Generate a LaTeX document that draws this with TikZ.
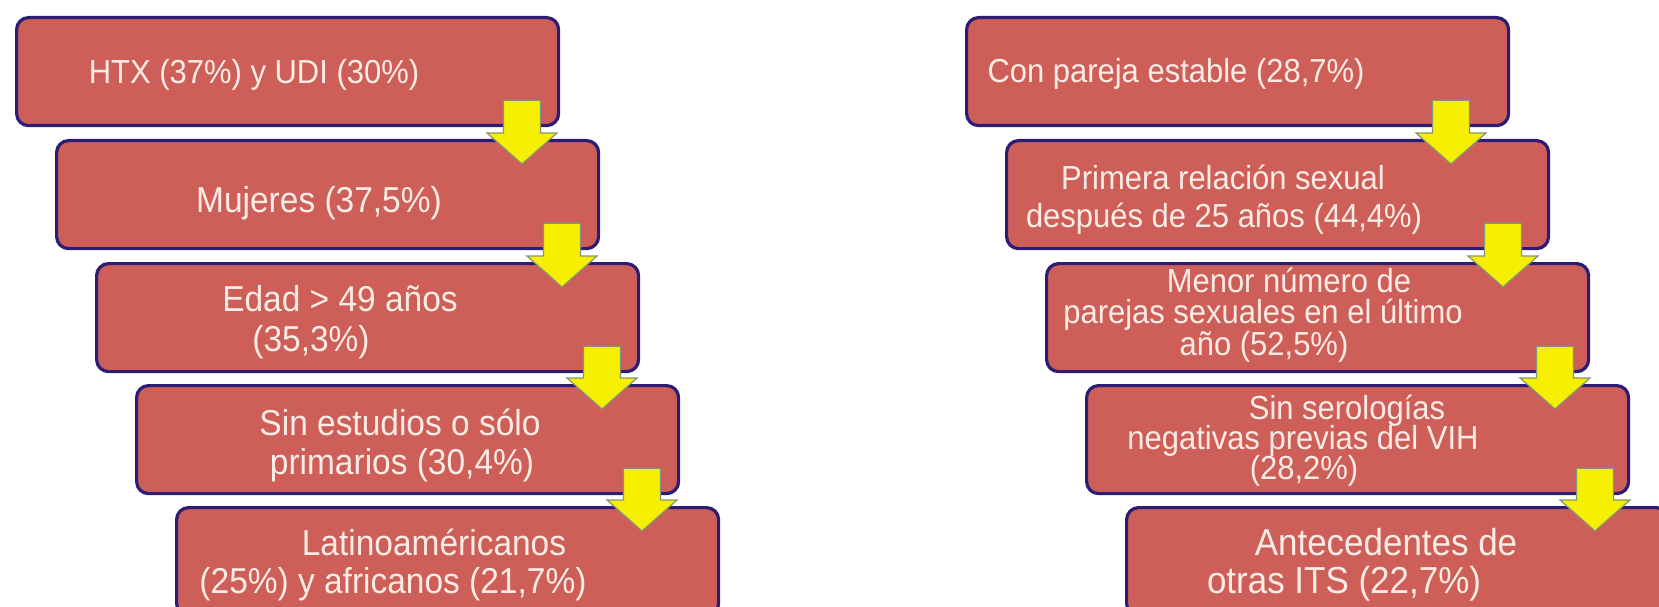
\documentclass[tikz,border=0pt]{standalone}
\usepackage{fontspec}
\setmainfont{Liberation Sans}[FakeStretch=0.93]
\usetikzlibrary{calc}
\definecolor{boxfill}{RGB}{205,95,88}
\definecolor{boxline}{RGB}{45,28,115}
\definecolor{txtcol}{RGB}{253,236,230}
\definecolor{arrfill}{RGB}{246,240,0}
\definecolor{arrline}{RGB}{130,150,120}
\tikzset{
  stepbox/.style={draw=boxline, line width=3.2pt, fill=boxfill, rounded corners=12pt,
    minimum width=542pt, minimum height=108pt, inner sep=0pt, anchor=north west},
  linetxt/.style={text=txtcol, anchor=base, inner sep=0pt},
  fa/.style={font=\fontsize{33.3}{38}\selectfont},
  fb/.style={font=\fontsize{36}{41}\selectfont},
  fc/.style={font=\fontsize{37.6}{43}\selectfont},
  yarrow/.style={fill=arrfill, draw=arrline, line width=1.2pt, line join=miter},
}
\newcommand{\blockarrow}[3]{%
  \draw[yarrow] let \p1=(#1.south), \p2=(#2.north) in
    (#3pt-18.5pt,\y1+27pt) -- (#3pt+18.5pt,\y1+27pt) -- (#3pt+18.5pt,\y2+6pt)
    -- (#3pt+35pt,\y2+6pt) -- (#3pt,\y2-25pt) -- (#3pt-35pt,\y2+6pt)
    -- (#3pt-18.5pt,\y2+6pt) -- cycle;}
\begin{document}
\begin{tikzpicture}[x=1pt,y=-1pt]
\useasboundingbox (0,0) rectangle (1659,607);
\clip (0,0) rectangle (1659,607);
\fill[white] (0,0) rectangle (1659,607);
% left column boxes
\node[stepbox] (L1) at (15,16) {};
\node[stepbox] (L2) at (55,139) {};
\node[stepbox] (L3) at (95,262) {};
\node[stepbox] (L4) at (135,384) {};
\node[stepbox] (L5) at (175,506) {};
% right column boxes
\node[stepbox] (R1) at (965,16) {};
\node[stepbox] (R2) at (1005,139) {};
\node[stepbox] (R3) at (1045,262) {};
\node[stepbox] (R4) at (1085,384) {};
\node[stepbox] (R5) at (1125,506) {};
% arrows
\blockarrow{L1}{L2}{522}
\blockarrow{L2}{L3}{562}
\blockarrow{L3}{L4}{602}
\blockarrow{L4}{L5}{642}
\blockarrow{R1}{R2}{1451}
\blockarrow{R2}{R3}{1503}
\blockarrow{R3}{R4}{1555}
\blockarrow{R4}{R5}{1595}
% left texts
\node[linetxt,fa] (L1a) at (254,84) {HTX (37\%) y UDI (30\%)};
\node[linetxt,fb] (L2a) at (319,212) {Mujeres (37,5\%)};
\node[linetxt,fb] (L3a) at (340,311) {Edad > 49 años};
\node[linetxt,fb] (L3b) at (311,351) {(35,3\%)};
\node[linetxt,fb] (L4a) at (400,435) {Sin estudios o sólo};
\node[linetxt,fb] (L4b) at (402,474) {primarios (30,4\%)};
\node[linetxt,fb] (L5a) at (434,555) {Latinoaméricanos};
\node[linetxt,fb] (L5b) at (393,593) {(25\%) y africanos (21,7\%)};
% right texts
\node[linetxt,fa] (R1a) at (1176,83) {Con pareja estable (28,7\%)};
\node[linetxt,fa] (R2a) at (1223,189) {Primera relación sexual};
\node[linetxt,fa] (R2b) at (1224,227) {después de 25 años (44,4\%)};
\node[linetxt,fa] (R3a) at (1289,292) {Menor número de};
\node[linetxt,fa] (R3b) at (1263,323) {parejas sexuales en el último};
\node[linetxt,fa] (R3c) at (1264,355) {año (52,5\%)};
\node[linetxt,fa] (R4a) at (1347,419) {Sin serologías};
\node[linetxt,fa] (R4b) at (1303,449) {negativas previas del VIH};
\node[linetxt,fa] (R4c) at (1304,479) {(28,2\%)};
\node[linetxt,fc] (R5a) at (1386,555) {Antecedentes de};
\node[linetxt,fc] (R5b) at (1344,593) {otras ITS (22,7\%)};
\end{tikzpicture}
\end{document}
